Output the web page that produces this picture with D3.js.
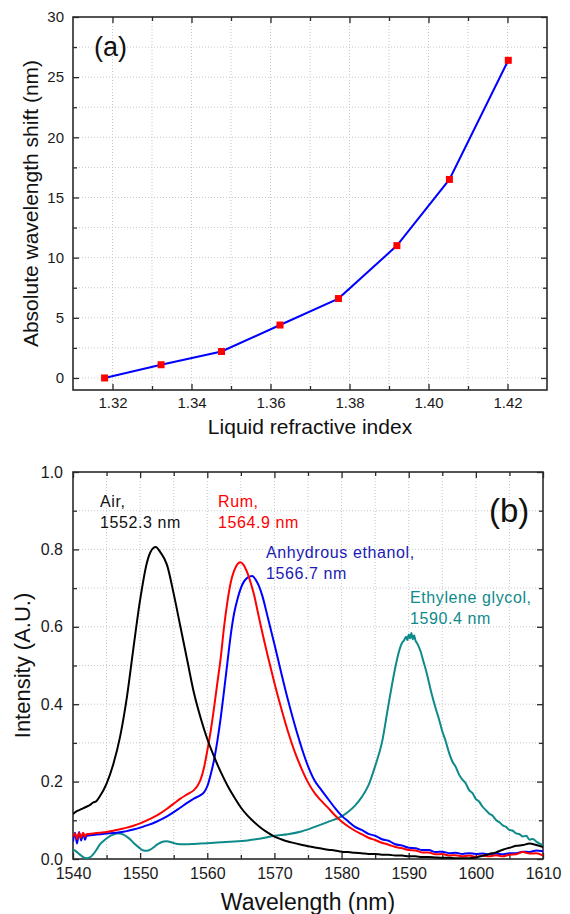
<!DOCTYPE html>
<html>
<head>
<meta charset="utf-8">
<script src="https://cdn.jsdelivr.net/npm/d3@7"></script>
<style>
  html, body { margin: 0; padding: 0; background: #fff; }
  svg { display: block; font-family: "Liberation Sans", Arial, sans-serif; }
</style>
</head>
<body>
<svg id="chart" width="570" height="914"></svg>
<script>
// ---------- Panel (a) data ----------
const refIndex = [1.318, 1.3323, 1.3476, 1.3624, 1.3772, 1.392, 1.4053, 1.4202];
const wlShift  = [0.0, 1.1, 2.2, 4.4, 6.6, 11.0, 16.5, 26.4];
const xTicksA = [1.32, 1.34, 1.36, 1.38, 1.40, 1.42];
const xMinorA = [1.33, 1.35, 1.37, 1.39, 1.41];
const yTicksA = [0, 5, 10, 15, 20, 25, 30];
const yMinorA = [2.5, 7.5, 12.5, 17.5, 22.5, 27.5];

// ---------- Panel (b) data ----------
const airWl = [1540,1540.5,1541,1541.5,1542,1542.5,1543,1543.5,1544,1545,1546,1547,1548,1549,1550,1551,1551.6,1552.3,1553,1554,1555,1556,1557,1558,1559,1560,1561,1562,1563,1564,1565,1566,1567,1568,1569,1570,1571,1572,1573,1574,1575,1576,1577,1578,1579,1580,1581,1582,1583,1584,1585,1586,1587,1588,1589,1590,1591,1592,1593,1594,1595,1596,1597,1598,1599,1600,1601,1602,1603,1604,1605,1606,1607,1608,1609,1610];
const airI  = [0.116,0.123,0.127,0.131,0.135,0.139,0.146,0.150,0.162,0.195,0.245,0.315,0.415,0.545,0.670,0.765,0.795,0.806,0.793,0.760,0.685,0.600,0.515,0.430,0.365,0.310,0.265,0.225,0.190,0.160,0.133,0.112,0.095,0.080,0.068,0.058,0.051,0.045,0.041,0.037,0.033,0.030,0.027,0.024,0.022,0.019,0.018,0.016,0.015,0.013,0.013,0.011,0.011,0.009,0.009,0.007,0.007,0.005,0.005,0.004,0.003,0.003,0.002,0.002,0.002,0.004,0.008,0.013,0.017,0.024,0.029,0.034,0.036,0.040,0.036,0.031];

const rumWl = [1540,1540.3,1540.6,1540.9,1541.2,1541.5,1541.8,1542,1543,1544,1545,1546,1547,1548,1549,1550,1551,1552,1553,1554,1555,1556,1557,1558,1558.5,1559,1559.5,1560,1560.5,1561,1561.5,1562,1562.5,1563,1563.5,1564,1564.5,1564.9,1565.4,1566,1566.5,1567,1567.5,1568,1569,1570,1571,1572,1573,1574,1575,1576,1577,1578,1579,1580,1581,1582,1583,1584,1585,1586,1587,1588,1589,1590,1591,1592,1593,1594,1595,1596,1597,1598,1599,1600,1601,1602,1603,1604,1605,1606,1607,1608,1609,1610];
const rumI  = [0.058,0.066,0.052,0.067,0.055,0.068,0.058,0.064,0.066,0.068,0.070,0.073,0.077,0.081,0.086,0.092,0.100,0.108,0.118,0.130,0.143,0.156,0.167,0.178,0.188,0.205,0.235,0.280,0.330,0.390,0.455,0.520,0.600,0.665,0.715,0.745,0.762,0.767,0.760,0.738,0.712,0.680,0.640,0.600,0.525,0.455,0.390,0.330,0.278,0.235,0.198,0.170,0.150,0.132,0.113,0.097,0.084,0.073,0.064,0.055,0.049,0.042,0.037,0.031,0.028,0.023,0.022,0.017,0.017,0.012,0.013,0.009,0.010,0.007,0.009,0.006,0.009,0.007,0.010,0.007,0.011,0.012,0.018,0.014,0.015,0.009];

const ethWl = [1540,1540.3,1540.6,1540.9,1541.2,1541.5,1541.8,1542,1543,1544,1545,1546,1547,1548,1549,1550,1551,1552,1553,1554,1555,1556,1557,1558,1559,1559.5,1560,1560.5,1561,1561.5,1562,1562.5,1563,1563.5,1564,1564.5,1565,1565.5,1566,1566.7,1567.2,1567.7,1568.2,1569,1570,1571,1572,1573,1574,1575,1576,1577,1578,1579,1580,1581,1582,1583,1584,1585,1586,1587,1588,1589,1590,1591,1592,1593,1594,1595,1596,1597,1598,1599,1600,1601,1602,1603,1604,1605,1606,1607,1608,1609,1610];
const ethI  = [0.045,0.068,0.040,0.070,0.048,0.066,0.050,0.060,0.062,0.064,0.066,0.067,0.069,0.072,0.076,0.081,0.087,0.093,0.101,0.110,0.121,0.133,0.145,0.156,0.165,0.172,0.188,0.218,0.255,0.305,0.365,0.435,0.508,0.580,0.635,0.672,0.700,0.718,0.727,0.731,0.722,0.705,0.680,0.625,0.555,0.482,0.412,0.348,0.290,0.240,0.202,0.178,0.155,0.132,0.112,0.097,0.083,0.075,0.065,0.060,0.051,0.047,0.038,0.035,0.029,0.028,0.023,0.023,0.018,0.019,0.015,0.016,0.013,0.015,0.013,0.014,0.012,0.014,0.012,0.015,0.015,0.019,0.018,0.022,0.020];

const egWl = [1540,1540.5,1541,1541.5,1542,1542.5,1543,1543.5,1544,1544.5,1545,1545.5,1546,1546.5,1547,1547.5,1548,1548.5,1549,1549.5,1550,1550.5,1551,1551.5,1552,1552.5,1553,1553.5,1554,1554.5,1555,1556,1557,1558,1560,1562,1564,1566,1568,1570,1572,1574,1576,1578,1580,1581,1582,1583,1584,1585,1586,1587,1588,1588.5,1589,1589.3,1589.6,1589.8,1590,1590.2,1590.4,1590.6,1590.8,1591,1591.3,1591.7,1592.2,1592.7,1593.3,1594,1594.5,1595,1595.5,1596,1596.5,1597,1597.5,1598,1598.5,1599,1599.5,1600,1600.5,1601,1601.5,1602,1602.5,1603,1603.5,1604,1604.5,1605,1605.5,1606,1606.5,1607,1607.5,1608,1608.5,1609,1609.5,1610];
const egI  = [0.025,0.019,0.012,0.005,0.002,0.004,0.012,0.024,0.038,0.046,0.053,0.059,0.063,0.066,0.066,0.063,0.058,0.051,0.042,0.034,0.027,0.022,0.021,0.024,0.030,0.037,0.042,0.045,0.046,0.044,0.041,0.038,0.038,0.039,0.041,0.043,0.045,0.048,0.053,0.060,0.064,0.071,0.083,0.096,0.110,0.122,0.138,0.160,0.190,0.240,0.300,0.400,0.495,0.533,0.558,0.565,0.574,0.566,0.580,0.570,0.584,0.568,0.578,0.565,0.556,0.540,0.510,0.479,0.435,0.390,0.362,0.330,0.305,0.275,0.252,0.238,0.218,0.205,0.195,0.178,0.170,0.155,0.148,0.135,0.126,0.117,0.112,0.101,0.095,0.087,0.083,0.075,0.073,0.066,0.064,0.058,0.060,0.050,0.052,0.045,0.040,0.036];

const xTicksB = [1540, 1550, 1560, 1570, 1580, 1590, 1600, 1610];
const xMinorB = [1545, 1555, 1565, 1575, 1585, 1595, 1605];
const yTicksB = [0.0, 0.2, 0.4, 0.6, 0.8, 1.0];
const yMinorB = [0.1, 0.3, 0.5, 0.7, 0.9];

const seriesNames  = ["Air,", "Rum,", "Anhydrous ethanol,", "Ethylene glycol,"];
const seriesPeaks  = ["1552.3 nm", "1564.9 nm", "1566.7 nm", "1590.4 nm"];

// ---------- Drawing ----------
const svg = d3.select("#chart");
const frameColor = "#2a2a2a";
const gridColor = "#c8c8c8";

function panel(opts) {
  const { x, y, xMaj, xMin, yMaj, yMin, xFmt, yFmt, tickFont, xLabelY } = opts;
  const [x0, x1] = x.range();
  const [y0, y1] = y.range(); // y0 bottom, y1 top
  const g = svg.append("g");

  // grid
  const gx = xMaj.concat(xMin).filter(v => x(v) > x0 + 1 && x(v) < x1 - 1);
  const gy = yMaj.concat(yMin).filter(v => y(v) < y0 - 1 && y(v) > y1 + 1);
  g.append("g").selectAll("line").data(gx).join("line")
    .attr("x1", d => x(d)).attr("x2", d => x(d)).attr("y1", y1).attr("y2", y0)
    .attr("stroke", gridColor).attr("stroke-width", 1).attr("stroke-dasharray", "1,2");
  g.append("g").selectAll("line").data(gy).join("line")
    .attr("y1", d => y(d)).attr("y2", d => y(d)).attr("x1", x0).attr("x2", x1)
    .attr("stroke", gridColor).attr("stroke-width", 1).attr("stroke-dasharray", "1,2");

  // axes: all ticks point inward
  const mk = (axisFn, scale, vals, size, fmt, tr) => {
    const a = axisFn(scale).tickValues(vals).tickSizeInner(-size).tickSizeOuter(0).tickPadding(opts.pad || 8);
    a.tickFormat(fmt || (() => ""));
    const gg = g.append("g").attr("transform", tr).call(a);
    gg.select(".domain").remove();
    gg.selectAll(".tick line").attr("stroke", frameColor).attr("stroke-width", 1.3);
    gg.selectAll("text").attr("font-size", tickFont).attr("fill", "#1a1a1a")
      .attr("font-family", "'Liberation Sans', Arial, sans-serif");
    return gg;
  };
  const bx = mk(d3.axisBottom, x, xMaj, 6, xFmt, `translate(0,${y0})`);
  bx.selectAll("text").attr("dy", null).attr("y", xLabelY);
  mk(d3.axisBottom, x, xMin, 4, null, `translate(0,${y0})`);
  mk(d3.axisTop, x, xMaj, 6, null, `translate(0,${y1})`);
  mk(d3.axisTop, x, xMin, 4, null, `translate(0,${y1})`);
  mk(d3.axisLeft, y, yMaj, 6, yFmt, `translate(${x0},0)`);
  mk(d3.axisLeft, y, yMin, 4, null, `translate(${x0},0)`);
  mk(d3.axisRight, y, yMaj, 6, null, `translate(${x1},0)`);
  mk(d3.axisRight, y, yMin, 4, null, `translate(${x1},0)`);

  g.append("rect").attr("x", x0).attr("y", y1).attr("width", x1 - x0).attr("height", y0 - y1)
    .attr("fill", "none").attr("stroke", frameColor).attr("stroke-width", 1.6);
  return g;
}

// ---- Panel (a) ----
const xA = d3.scaleLinear().domain([1.31, 1.43]).range([73, 547]);
const yA = d3.scaleLinear().domain([-1, 30]).range([390, 17]);
panel({ x: xA, y: yA, xMaj: xTicksA, xMin: xMinorA, yMaj: yTicksA, yMin: yMinorA,
  xFmt: d3.format(".2f"), yFmt: d3.format("d"), tickFont: "15px", xLabelY: 18, pad: 9 });

const lineA = d3.line().x((d, i) => xA(refIndex[i])).y(d => yA(d));
svg.append("path").datum(wlShift).attr("d", lineA)
  .attr("fill", "none").attr("stroke", "#0000ff").attr("stroke-width", 2);
svg.append("g").selectAll("rect").data(wlShift).join("rect")
  .attr("x", (d, i) => xA(refIndex[i]) - 3.5).attr("y", d => yA(d) - 3.5)
  .attr("width", 7).attr("height", 7).attr("fill", "#ff0000");

svg.append("text").attr("x", 94).attr("y", 56).attr("font-size", "27px").attr("fill", "#111").text("(a)");
svg.append("text").attr("transform", `translate(38,${(17 + 390) / 2}) rotate(-90)`)
  .attr("text-anchor", "middle").attr("font-size", "21px").attr("fill", "#111")
  .text("Absolute wavelength shift (nm)");
svg.append("text").attr("x", 310).attr("y", 434).attr("text-anchor", "middle")
  .attr("font-size", "21px").attr("fill", "#111").text("Liquid refractive index");

// ---- Panel (b) ----
const xB = d3.scaleLinear().domain([1540, 1610]).range([73, 543]);
const yB = d3.scaleLinear().domain([0, 1]).range([859, 472]);
panel({ x: xB, y: yB, xMaj: xTicksB, xMin: xMinorB, yMaj: yTicksB, yMin: yMinorB,
  xFmt: d3.format("d"), yFmt: d3.format(".1f"), tickFont: "16px", xLabelY: 20, pad: 10 });

svg.append("defs").append("clipPath").attr("id", "clipB").append("rect")
  .attr("x", 73).attr("y", 472).attr("width", 470).attr("height", 387);

const spectra = [
  { wl: airWl, v: airI, color: "#000000" },
  { wl: rumWl, v: rumI, color: "#ff0000" },
  { wl: ethWl, v: ethI, color: "#0000ff" },
  { wl: egWl, v: egI, color: "#0f8a8a" }
];
const gB = svg.append("g").attr("clip-path", "url(#clipB)");
spectra.slice().reverse().forEach(s => {
  const ln = d3.line().x((d, i) => xB(s.wl[i])).y(d => yB(d)).curve(d3.curveMonotoneX);
  gB.append("path").datum(s.v).attr("d", ln).attr("fill", "none")
    .attr("stroke", s.color).attr("stroke-width", 2).attr("stroke-linejoin", "round");
});

const labelColors = ["#111111", "#ff0000", "#1a1ab4", "#0f8a8a"];
const labelPos = [[100, 507], [218, 507], [266, 558], [410, 603]];
seriesNames.forEach((n, i) => {
  const t = svg.append("text").attr("font-size", "16px").attr("fill", labelColors[i])
    .attr("letter-spacing", "0.6px");
  t.append("tspan").attr("x", labelPos[i][0]).attr("y", labelPos[i][1]).text(n);
  t.append("tspan").attr("x", labelPos[i][0]).attr("y", labelPos[i][1] + 21).text(seriesPeaks[i]);
});

svg.append("text").attr("x", 489).attr("y", 522).attr("font-size", "33px").attr("fill", "#111").text("(b)");
svg.append("text").attr("transform", `translate(30,${(472 + 859) / 2}) rotate(-90)`)
  .attr("text-anchor", "middle").attr("font-size", "22px").attr("fill", "#111")
  .text("Intensity (A.U.)");
svg.append("text").attr("x", 308).attr("y", 910).attr("text-anchor", "middle")
  .attr("font-size", "23px").attr("fill", "#111").text("Wavelength (nm)");
</script>
</body>
</html>
